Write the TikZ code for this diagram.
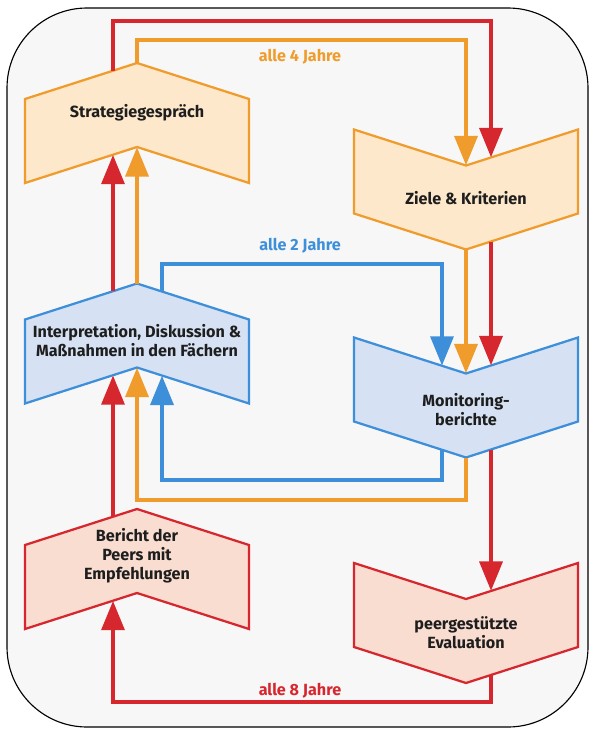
\documentclass[tikz,border=0pt]{standalone}
\usepackage{fontspec}
\setmainfont{Fira Sans}
\usetikzlibrary{arrows.meta}
\definecolor{linered}{HTML}{D6272F}
\definecolor{lineorange}{HTML}{EF9C2C}
\definecolor{lineblue}{HTML}{3E8FD9}
\definecolor{fillred}{HTML}{F9DDD0}
\definecolor{fillorange}{HTML}{FDE8CB}
\definecolor{fillblue}{HTML}{D6E2F3}
\definecolor{textdark}{HTML}{1E1E1E}

\tikzset{
  frame/.style={draw=black, line width=0.8pt, fill=white!97!black, rounded corners=2cm},
  boxred/.style={draw=linered, fill=fillred, line width=1.6pt},
  boxorange/.style={draw=lineorange, fill=fillorange, line width=1.6pt},
  boxblue/.style={draw=lineblue, fill=fillblue, line width=1.6pt},
  boxtext/.style={align=center, text=textdark, font=\fontsize{11.5}{13.5}\selectfont\bfseries, inner sep=0pt},
  lbl/.style={font=\fontsize{11.5}{13.5}\selectfont\bfseries, inner sep=0pt},
  flow/.style={line width=3.5pt, -{Triangle[length=21pt,width=16pt]}},
  flow8/.style={flow, draw=linered},
  flow4/.style={flow, draw=lineorange},
  flow2/.style={flow, draw=lineblue},
  % chevron pointing up, notch below
  pics/chevup/.style n args={3}{code={
    \draw[#1] (-112,-42) -- (0,-78) -- (112,-42) -- (112,42) -- (0,6) -- (-112,42) -- cycle;
    \coordinate (-tl) at (-24,-70.3);
    \coordinate (-tc) at (0,-78);
    \coordinate (-tr) at (25,-70);
    \coordinate (-bl) at (-24,13.7);
    \coordinate (-bc) at (0,6);
    \coordinate (-br) at (25,14);
    \node[boxtext] (-text) at (0,#2) {#3};
  }},
  % chevron pointing down, notch above
  pics/chevdown/.style n args={3}{code={
    \draw[#1] (-112,-42) -- (0,-6) -- (112,-42) -- (112,42) -- (0,78) -- (-112,42) -- cycle;
    \coordinate (-tl) at (-24,-13.7);
    \coordinate (-tc) at (0,-6);
    \coordinate (-tr) at (25,-14);
    \coordinate (-bl) at (-24,70.3);
    \coordinate (-bc) at (0,78);
    \coordinate (-br) at (25,70);
    \node[boxtext] (-text) at (0,#2) {#3};
  }},
}

\begin{document}
\begin{tikzpicture}[x=0.025cm, y=-0.025cm]
\useasboundingbox (0,0) rectangle (590,730);
\draw[frame] (7,8) rectangle (588,727);

% left column
\pic (strat) at (137,141) {chevup={boxorange}{-28}{Strategiegespräch}};
\pic (int) at (137,361.5) {chevup={boxblue}{-21}{Interpretation, Diskussion \&\\Maßnahmen in den Fächern}};
\pic (peers) at (137,587) {chevup={boxred}{-31}{Bericht der\\Peers mit\\Empfehlungen}};
% right column
\pic (ziele) at (466,171.5) {chevdown={boxorange}{27}{Ziele \& Kriterien}};
\pic (moni) at (466,379.5) {chevdown={boxblue}{30}{Monitoring-\\berichte}};
\pic (eval) at (466,605) {chevdown={boxred}{28}{peergestützte\\Evaluation}};

\coordinate (top8) at (300,21);
\coordinate (top4) at (300,40);
\coordinate (top2) at (300,264);
\coordinate (bot2) at (300,480);
\coordinate (bot4) at (300,500);
\coordinate (bot8) at (300,702);

% alle 8 Jahre
\draw[flow8] (strat-tl) |- (top8) -| (ziele-tr);
\draw[flow8] (ziele-br) -- (moni-tr);
\draw[flow8] (moni-br) -- (eval-tr);
\draw[flow8] (eval-br) |- (bot8) -| (peers-bl);
\draw[flow8] (peers-tl) -- (int-bl);
\draw[flow8] (int-tl) -- (strat-bl);
% alle 4 Jahre
\draw[flow4] (strat-tc) |- (top4) -| (ziele-tc);
\draw[flow4] (ziele-bc) -- (moni-tc);
\draw[flow4] (moni-bc) |- (bot4) -| (int-bc);
\draw[flow4] (int-tc) -- (strat-bc);
% alle 2 Jahre
\draw[flow2] (int-tr) |- (top2) -| (moni-tl);
\draw[flow2] (moni-bl) |- (bot2) -| (int-br);

\node[lbl, text=lineorange] (l4) at (300,57) {alle 4 Jahre};
\node[lbl, text=lineblue] (l2) at (300,246) {alle 2 Jahre};
\node[lbl, text=linered] (l8) at (300,691) {alle 8 Jahre};
\end{tikzpicture}
\end{document}
